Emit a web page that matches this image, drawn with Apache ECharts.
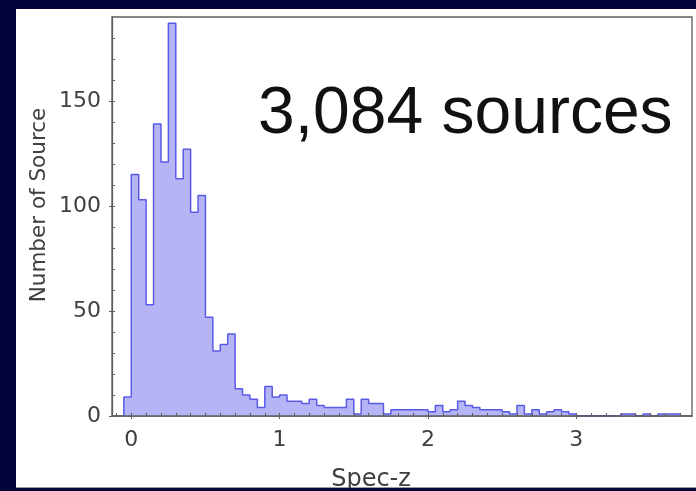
<!DOCTYPE html>
<html>
<head>
<meta charset="utf-8">
<script src="https://cdn.jsdelivr.net/npm/echarts@6/dist/echarts.min.js"></script>
<style>
  html, body { margin: 0; padding: 0; background: #04043a; width: 696px; height: 491px; overflow: hidden; }
  #panel { position: absolute; left: 16px; top: 9px; width: 680px; height: 479px; background: #ffffff; border-bottom: 1px solid #9a9aa8; box-sizing: border-box; }
  #chart { position: absolute; left: 0; top: 0; width: 696px; height: 488px; }
</style>
</head>
<body>
<div id="panel"></div>
<div id="chart"></div>
<script>
// Spectroscopic redshift histogram, bins of width 0.05 starting at z = -0.05
const binStart = -0.05;
const binWidth = 0.05;
const counts = [
  9, 115, 103, 53, 139, 121, 187, 113, 127, 97,
  105, 47, 31, 34, 39, 13, 10, 8, 4, 14,
  9, 10, 7, 7, 6, 8, 5, 4, 4, 4,
  8, 1, 8, 6, 6, 1, 3, 3, 3, 3,
  3, 2, 5, 2, 3, 7, 5, 4, 3, 3,
  3, 2, 1, 5, 1, 3, 1, 2, 3, 2,
  1, 0, 0, 0, 0, 0, 0, 1, 1, 0,
  1, 0, 1, 1, 1
];

const xTickValues = [0, 1, 2, 3];
const yTickValues = [0, 50, 100, 150];
const xRange = [-0.13, 3.78];
const yRange = [0, 190];

const headline = '3,084 sources';
const xTitle = 'Spec-z';
const yTitle = 'Number of Source';

// minor tick positions
const xMinor = [];
for (let k = -1; k <= 37; k++) xMinor.push(k / 10);
const yMinor = [];
for (let k = 0; k <= 18; k++) yMinor.push(k * 10);

// step outline: one point per bin left edge, closed to zero at both ends
const edge = i => Math.round((binStart + i * binWidth) * 1000) / 1000;
const outline = [[edge(0), 0]];
counts.forEach((c, i) => outline.push([edge(i), c]));
outline.push([edge(counts.length), counts[counts.length - 1]]);
outline.push([edge(counts.length), 0]);

const frameColor = '#5e5e5e';
const labelColor = '#404040';
const uiFont = 'DejaVu Sans';

const chart = echarts.init(document.getElementById('chart'), null, { renderer: 'canvas' });

chart.setOption({
  animation: false,
  backgroundColor: 'transparent',
  grid: {
    left: 112, right: 4, top: 17, bottom: 72,
    show: true, borderColor: frameColor, borderWidth: 1.3, backgroundColor: 'transparent'
  },
  xAxis: [
    {
      type: 'value', min: xRange[0], max: xRange[1], position: 'bottom', z: 5,
      axisLine: { show: true, onZero: false, lineStyle: { color: frameColor, width: 1.5 } },
      axisTick: { show: true, inside: false, length: 3, customValues: xTickValues, lineStyle: { color: frameColor } },
      axisLabel: { customValues: xTickValues, margin: 13, fontSize: 22, color: labelColor, fontFamily: uiFont },
      splitLine: { show: false }
    },
    {
      type: 'value', min: xRange[0], max: xRange[1], position: 'bottom', z: 5,
      axisLine: { show: false, onZero: false },
      axisTick: { show: true, inside: true, length: 3, customValues: xMinor, lineStyle: { color: frameColor } },
      axisLabel: { show: false },
      splitLine: { show: false }
    }
  ],
  yAxis: [
    {
      type: 'value', min: yRange[0], max: yRange[1], position: 'left', z: 5,
      axisLine: { show: true, onZero: false, lineStyle: { color: frameColor, width: 1.3 } },
      axisTick: { show: true, inside: false, length: 3, customValues: yTickValues, lineStyle: { color: frameColor } },
      axisLabel: { customValues: yTickValues, margin: 11, fontSize: 22, color: labelColor, fontFamily: uiFont },
      splitLine: { show: false }
    },
    {
      type: 'value', min: yRange[0], max: yRange[1], position: 'left', z: 5,
      axisLine: { show: false, onZero: false },
      axisTick: { show: true, inside: true, length: 3, customValues: yMinor, lineStyle: { color: frameColor } },
      axisLabel: { show: false },
      splitLine: { show: false }
    }
  ],
  series: [{
    type: 'line',
    xAxisIndex: 0,
    yAxisIndex: 0,
    data: outline,
    step: 'end',
    symbol: 'none',
    lineStyle: { color: '#5a5ae8', width: 1.5 },
    areaStyle: { color: '#b5b5f6', opacity: 1 },
    z: 2
  }],
  graphic: [
    {
      type: 'text', x: 258, y: 114.5,
      style: { text: headline, fontSize: 66, fontFamily: 'Liberation Sans', fill: '#111111', textAlign: 'left', textVerticalAlign: 'middle' }
    },
    {
      type: 'text', x: 371, y: 479.5,
      style: { text: xTitle, fontSize: 24, fontFamily: uiFont, fill: labelColor, textAlign: 'center', textVerticalAlign: 'middle' }
    },
    {
      type: 'text', x: 39, y: 205, rotation: Math.PI / 2,
      style: { text: yTitle, fontSize: 21.5, fontFamily: uiFont, fill: labelColor, textAlign: 'center', textVerticalAlign: 'middle' }
    }
  ]
});
</script>
</body>
</html>
